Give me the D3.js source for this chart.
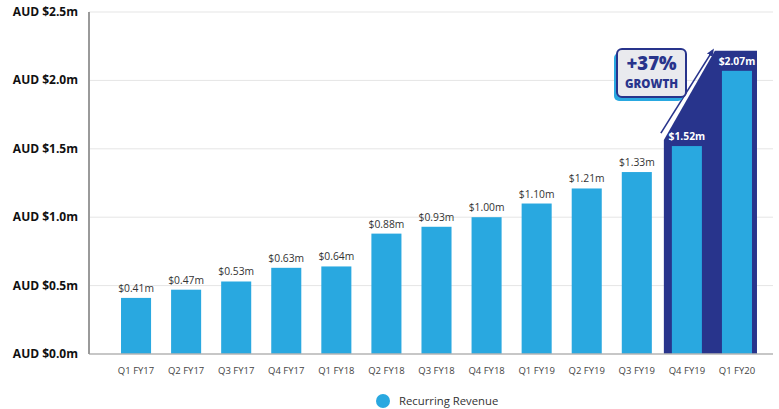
<!DOCTYPE html>
<html>
<head>
<meta charset="utf-8">
<script src="https://cdn.jsdelivr.net/npm/d3@7"></script>
<style>
  html, body { margin: 0; padding: 0; background: #ffffff; }
  svg { display: block; font-family: "Open Sans", "Noto Sans", sans-serif; }
</style>
</head>
<body>
<svg id="chart" width="779" height="409"></svg>
<script>
// Quarterly recurring revenue (AUD millions)
const quarters = ["Q1 FY17","Q2 FY17","Q3 FY17","Q4 FY17","Q1 FY18","Q2 FY18","Q3 FY18","Q4 FY18","Q1 FY19","Q2 FY19","Q3 FY19","Q4 FY19","Q1 FY20"];
const revenue = [0.41, 0.47, 0.53, 0.63, 0.64, 0.88, 0.93, 1.00, 1.10, 1.21, 1.33, 1.52, 2.07];
const yTicks = [0, 0.5, 1.0, 1.5, 2.0, 2.5];
const highlighted = ["Q4 FY19", "Q1 FY20"];
const growthLines = ["+37%", "GROWTH"];
const seriesName = "Recurring Revenue";

const BAR = "#29a8e0";
const NAVY = "#28348c";

const svg = d3.select("#chart");
const axisX0 = 89, axisX1 = 773;

const x = d3.scaleBand().domain(quarters).range([111, 762]).paddingInner(0.4).paddingOuter(0.2);
const y = d3.scaleLinear().domain([0, 2.5]).range([354, 12]);

// gridlines
svg.append("g").selectAll("line").data(yTicks.filter(d => d > 0)).join("line")
  .attr("x1", axisX0).attr("x2", axisX1)
  .attr("y1", d => y(d)).attr("y2", d => y(d))
  .attr("stroke", "#e5e5e5").attr("stroke-width", 1);

// highlight panel behind the last two quarters
const hx0 = x(highlighted[0]) - 8;
const hx1 = x(highlighted[1]) + x.bandwidth() + 5;
const hTop = y(revenue[12]) - 20;
const hLeftTop = y(revenue[11]) - 6;
const slopeEndX = hx0 + 51;
svg.append("path")
  .attr("d", `M${hx0},${y(0)} L${hx0},${hLeftTop} L${slopeEndX},${hTop} L${hx1},${hTop} L${hx1},${y(0)} Z`)
  .attr("fill", NAVY);

// growth arrow
const defs = svg.append("defs");
defs.append("marker").attr("id", "arrowHead")
  .attr("viewBox", "0 0 10 10").attr("refX", 5).attr("refY", 5)
  .attr("markerWidth", 5).attr("markerHeight", 5).attr("orient", "auto")
  .append("path").attr("d", "M0,1 L10,5 L0,9 Z").attr("fill", NAVY);
svg.append("line")
  .attr("x1", hx0 - 3).attr("y1", hLeftTop - 7)
  .attr("x2", slopeEndX - 3).attr("y2", hTop + 1)
  .attr("stroke", NAVY).attr("stroke-width", 1.6)
  .attr("marker-end", "url(#arrowHead)");

// bars
svg.append("g").selectAll("rect").data(quarters).join("rect")
  .attr("x", d => x(d))
  .attr("y", (d, i) => y(revenue[i]))
  .attr("width", x.bandwidth())
  .attr("height", (d, i) => y(0) - y(revenue[i]))
  .attr("fill", BAR);

// value labels
svg.append("g").selectAll("text").data(quarters).join("text")
  .attr("x", d => x(d) + x.bandwidth() / 2)
  .attr("y", (d, i) => y(revenue[i]) - 6)
  .attr("text-anchor", "middle")
  .attr("font-size", 10.3)
  .attr("font-weight", d => highlighted.includes(d) ? 700 : 400)
  .attr("fill", d => highlighted.includes(d) ? "#ffffff" : "#333333")
  .text((d, i) => "$" + revenue[i].toFixed(2) + "m");

// axes lines
svg.append("line").attr("x1", axisX0).attr("x2", axisX1).attr("y1", y(0)).attr("y2", y(0))
  .attr("stroke", "#b5b5b5").attr("stroke-width", 1.5);
svg.append("line").attr("x1", axisX0).attr("x2", axisX0).attr("y1", y(2.5)).attr("y2", y(0))
  .attr("stroke", "#9a9a9a").attr("stroke-width", 2);

// y tick labels
svg.append("g").selectAll("text").data(yTicks).join("text")
  .attr("x", 78).attr("y", d => y(d) + 4)
  .attr("text-anchor", "end")
  .attr("font-size", 12).attr("font-weight", 700).attr("fill", "#111111")
  .text(d => "AUD $" + d.toFixed(1) + "m");

// x axis labels
const xAxis = d3.axisBottom(x).tickSize(0).tickPadding(13);
const gx = svg.append("g").attr("transform", `translate(0,${y(0)})`).call(xAxis);
gx.select(".domain").remove();
gx.selectAll("text").attr("font-size", 9.5).attr("fill", "#444444")
  .attr("font-family", "'Open Sans', 'Noto Sans', sans-serif");

// growth callout box
const bx = 617, by = 49, bw = 69, bh = 48;
svg.append("rect").attr("x", bx - 3).attr("y", by + 4).attr("width", bw).attr("height", bh)
  .attr("rx", 5).attr("fill", BAR);
svg.append("rect").attr("x", bx).attr("y", by).attr("width", bw).attr("height", bh)
  .attr("rx", 5).attr("fill", "#e9eaee").attr("stroke", NAVY).attr("stroke-width", 2);
svg.append("text").attr("x", bx + bw / 2).attr("y", by + 21)
  .attr("text-anchor", "middle").attr("font-size", 18.5).attr("font-weight", 800)
  .attr("fill", NAVY).text(growthLines[0]);
svg.append("text").attr("x", bx + bw / 2).attr("y", by + 39)
  .attr("text-anchor", "middle").attr("font-size", 11.5).attr("font-weight", 800)
  .attr("fill", NAVY).text(growthLines[1]);

// legend
svg.append("circle").attr("cx", 383).attr("cy", 401).attr("r", 7).attr("fill", BAR);
svg.append("text").attr("x", 399).attr("y", 405).attr("font-size", 11.3)
  .attr("fill", "#333333").text(seriesName);
</script>
</body>
</html>
